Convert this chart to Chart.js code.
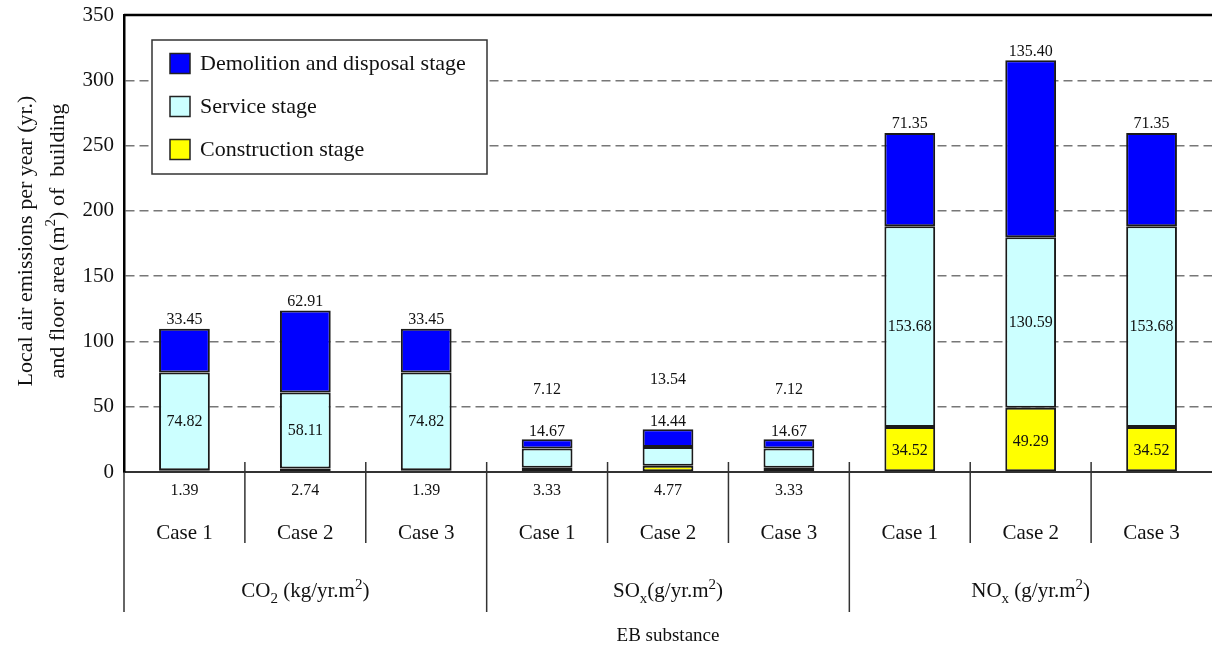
<!DOCTYPE html>
<html>
<head>
<meta charset="utf-8">
<title>Local air emissions per building stage</title>
<script src="https://cdn.jsdelivr.net/npm/chart.js@4.4.1/dist/chart.umd.min.js"></script>
<style>
    body { margin: 0; background: #fff; }
    canvas { display: block; }
</style>
</head>
<body>
<canvas id="emissionsChart" width="1212" height="649"></canvas>
<script>
// Chart data
const caseLabels = ['Case 1', 'Case 2', 'Case 3', 'Case 1', 'Case 2', 'Case 3', 'Case 1', 'Case 2', 'Case 3'];
const constructionStage = [1.39, 2.74, 1.39, 3.33, 4.77, 3.33, 34.52, 49.29, 34.52];
const serviceStage = [74.82, 58.11, 74.82, 14.67, 14.44, 14.67, 153.68, 130.59, 153.68];
const demolitionStage = [33.45, 62.91, 33.45, 7.12, 13.54, 7.12, 71.35, 135.40, 71.35];
const yTicks = [0, 50, 100, 150, 200, 250, 300, 350];

// Substance groups, each spans 3 cases (text parts carry sub/superscripts)
const substanceGroups = [
    [{ text: 'CO' }, { text: '2', sub: true }, { text: ' (kg/yr.m' }, { text: '2', sup: true }, { text: ')' }],
    [{ text: 'SO' }, { text: 'x', sub: true }, { text: '(g/yr.m' }, { text: '2', sup: true }, { text: ')' }],
    [{ text: 'NO' }, { text: 'x', sub: true }, { text: ' (g/yr.m' }, { text: '2', sup: true }, { text: ')' }]
];
const casesPerGroup = 3;
const xAxisTitle = 'EB substance';
const yAxisTitle = [
    [{ text: 'Local air emissions per year (yr.)' }],
    [{ text: 'and floor area (m' }, { text: '2', sup: true }, { text: ') of  building' }]
];

const SERIF = '"Liberation Serif", "Times New Roman", serif';

function font(size) {
    return size + 'px ' + SERIF;
}

// Draw a line of text made of parts (normal / subscript / superscript), centred on cx, cy
function drawRichText(ctx, parts, cx, cy, size) {
    let total = 0;
    const widths = parts.map(p => {
        ctx.font = font(p.sub || p.sup ? Math.round(size * 0.7) : size);
        const w = ctx.measureText(p.text).width;
        total += w;
        return w;
    });
    let x = cx - total / 2;
    ctx.textAlign = 'left';
    ctx.textBaseline = 'alphabetic';
    parts.forEach((p, i) => {
        ctx.font = font(p.sub || p.sup ? Math.round(size * 0.7) : size);
        let dy = 0;
        if (p.sub) dy = size * 0.3;
        if (p.sup) dy = -size * 0.4;
        ctx.fillText(p.text, x, cy + size * 0.33 + dy);
        x += widths[i];
    });
}

// Value labels next to / inside each stacked segment
const valueLabelPlugin = {
    id: 'valueLabels',
    afterDatasetsDraw(chart) {
        const ctx = chart.ctx;
        const area = chart.chartArea;
        const metas = [0, 1, 2].map(i => chart.getDatasetMeta(i));

        ctx.save();
        ctx.fillStyle = '#111';
        ctx.font = font(16);
        ctx.textAlign = 'center';
        ctx.textBaseline = 'middle';

        for (let j = 0; j < caseLabels.length; j++) {
            const cons = metas[0].data[j];
            const serv = metas[1].data[j];
            const demo = metas[2].data[j];
            const top = demo.y;
            const isThin = el => Math.abs(el.base - el.y) < 20;

            // construction stage
            const consY = isThin(cons) ? area.bottom + 19 : (cons.y + cons.base) / 2 + 2;
            ctx.fillText(constructionStage[j].toFixed(2), cons.x, consY);

            // service stage
            const servY = isThin(serv) ? top - 7 : (serv.y + serv.base) / 2;
            ctx.fillText(serviceStage[j].toFixed(2), serv.x, servY);

            // demolition and disposal stage
            const demoY = isThin(demo) ? top - 49 : top - 9;
            ctx.fillText(demolitionStage[j].toFixed(2), demo.x, demoY);
        }
        ctx.restore();
    }
};

// Legend box, multi-level x axis, axis titles and frame line
const decorPlugin = {
    id: 'decor',
    afterDraw(chart) {
        const ctx = chart.ctx;
        const area = chart.chartArea;
        const xScale = chart.scales.x;
        const step = xScale.getPixelForValue(1) - xScale.getPixelForValue(0);

        ctx.save();

        // top frame line
        ctx.strokeStyle = '#000';
        ctx.lineWidth = 2.5;
        ctx.beginPath();
        ctx.moveTo(area.left, area.top);
        ctx.lineTo(area.right, area.top);
        ctx.stroke();

        // legend box
        ctx.fillStyle = '#fff';
        ctx.fillRect(152, 40, 335, 134);
        ctx.strokeStyle = '#333';
        ctx.lineWidth = 1.5;
        ctx.strokeRect(152, 40, 335, 134);

        const legendItems = [2, 1, 0].map(i => chart.data.datasets[i]);
        legendItems.forEach((ds, k) => {
            const cy = 63.5 + k * 43;
            ctx.fillStyle = ds.backgroundColor;
            ctx.fillRect(170, cy - 10, 20, 20);
            ctx.strokeStyle = '#222';
            ctx.lineWidth = 1.5;
            ctx.strokeRect(170, cy - 10, 20, 20);
            ctx.fillStyle = '#111';
            ctx.font = font(22);
            ctx.textAlign = 'left';
            ctx.textBaseline = 'middle';
            ctx.fillText(ds.label, 200, cy + 1);
        });

        // separators between cases / substances
        ctx.strokeStyle = '#333';
        ctx.lineWidth = 1.5;
        for (let j = 0; j < caseLabels.length; j++) {
            const x = xScale.getPixelForValue(j) - step / 2;
            const isGroupEdge = j % casesPerGroup === 0;
            ctx.beginPath();
            ctx.moveTo(x, j === 0 ? area.bottom : area.bottom - 10);
            ctx.lineTo(x, isGroupEdge ? area.bottom + 140 : area.bottom + 71);
            ctx.stroke();
        }

        // case labels
        ctx.fillStyle = '#111';
        ctx.font = font(21);
        ctx.textAlign = 'center';
        ctx.textBaseline = 'middle';
        caseLabels.forEach((label, j) => {
            ctx.fillText(label, xScale.getPixelForValue(j), area.bottom + 61);
        });

        // substance labels
        substanceGroups.forEach((parts, g) => {
            const cx = xScale.getPixelForValue(g * casesPerGroup + 1);
            drawRichText(ctx, parts, cx, area.bottom + 118, 21);
        });

        // x axis title
        ctx.font = font(19);
        ctx.textAlign = 'center';
        ctx.textBaseline = 'middle';
        ctx.fillText(xAxisTitle, (area.left + area.right) / 2, area.bottom + 164);

        // y axis title (two rotated lines)
        const midY = 241;
        [25, 57].forEach((x, k) => {
            ctx.save();
            ctx.translate(x, midY);
            ctx.rotate(-Math.PI / 2);
            drawRichText(ctx, yAxisTitle[k], 0, 0, 22);
            ctx.restore();
        });

        ctx.restore();
    }
};

const chart = new Chart(document.getElementById('emissionsChart'), {
    type: 'bar',
    data: {
        labels: caseLabels,
        datasets: [
            {
                label: 'Construction stage',
                data: constructionStage,
                backgroundColor: '#ffff00'
            },
            {
                label: 'Service stage',
                data: serviceStage,
                backgroundColor: '#ccffff'
            },
            {
                label: 'Demolition and disposal stage',
                data: demolitionStage,
                backgroundColor: '#0000ff'
            }
        ]
    },
    options: {
        responsive: false,
        animation: false,
        layout: {
            padding: { top: 15, right: 0, left: 0, bottom: 0 }
        },
        datasets: {
            bar: {
                borderColor: '#1a1a1a',
                borderWidth: 2,
                borderSkipped: false,
                barPercentage: 0.42,
                categoryPercentage: 1.0
            }
        },
        plugins: {
            legend: { display: false },
            tooltip: { enabled: false }
        },
        scales: {
            x: {
                stacked: true,
                grid: { display: false },
                ticks: { display: false },
                border: { display: true, color: '#333', width: 2 },
                afterFit(scale) {
                    scale.height = 177;
                }
            },
            y: {
                stacked: true,
                min: yTicks[0],
                max: yTicks[yTicks.length - 1],
                afterBuildTicks(scale) {
                    scale.ticks = yTicks.map(v => ({ value: v }));
                },
                ticks: {
                    color: '#111',
                    padding: 10,
                    font: { family: SERIF, size: 21 }
                },
                grid: {
                    drawTicks: false,
                    lineWidth: 1.5,
                    color: ctx => (ctx.tick && (ctx.tick.value === 0 || ctx.tick.value === 350)) ? 'rgba(0,0,0,0)' : '#777'
                },
                border: { display: true, color: '#000', width: 2.5, dash: [9, 5] },
                afterFit(scale) {
                    scale.width = 124;
                    scale.paddingTop = 0;
                    scale.paddingBottom = 0;
                }
            }
        }
    },
    plugins: [valueLabelPlugin, decorPlugin]
});
</script>
</body>
</html>
